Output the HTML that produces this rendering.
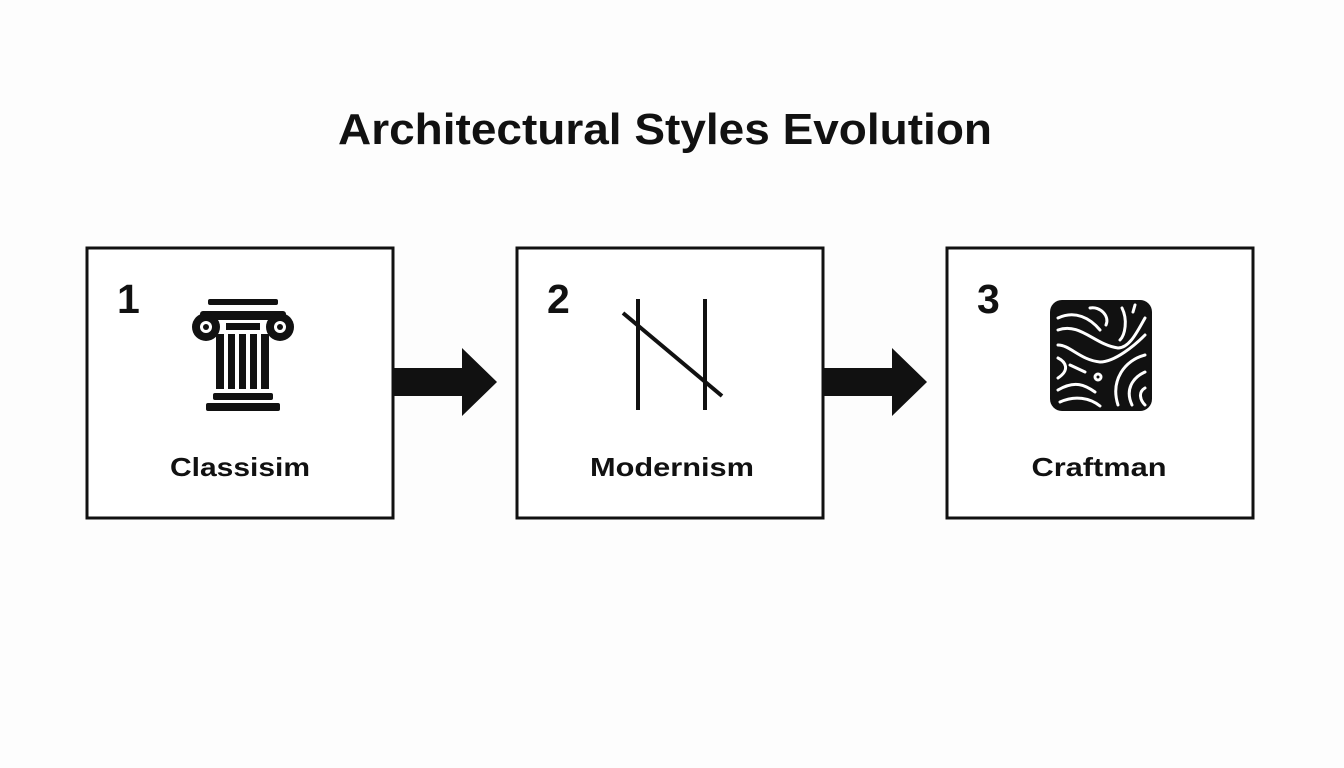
<!DOCTYPE html>
<html><head><style>
body{margin:0;background:#fdfdfd;}
svg{display:block}
text{font-family:"Liberation Sans",Arial,sans-serif;font-weight:bold;fill:#111}
</style></head><body>
<svg width="1344" height="768" viewBox="0 0 1344 768">
<rect width="1344" height="768" fill="#fdfdfd"/>
<text x="665" y="144" font-size="44" text-anchor="middle" textLength="654" lengthAdjust="spacingAndGlyphs">Architectural Styles Evolution</text>
<g fill="#fff" stroke="#111" stroke-width="3">
<rect x="87" y="248" width="306" height="270"/>
<rect x="517" y="248" width="306" height="270"/>
<rect x="947" y="248" width="306" height="270"/>
</g>
<g fill="#111">
<path d="M393 368H462V348L497 382L462 416V396H393Z"/>
<path d="M823 368H892V348L927 382L892 416V396H823Z"/>
</g>
<text x="117" y="313" font-size="41">1</text>
<text x="547" y="313" font-size="41">2</text>
<text x="977" y="313" font-size="41">3</text>
<text x="240" y="476" font-size="26" text-anchor="middle" textLength="140" lengthAdjust="spacingAndGlyphs">Classisim</text>
<text x="672" y="476" font-size="26" text-anchor="middle" textLength="164" lengthAdjust="spacingAndGlyphs">Modernism</text>
<text x="1099" y="476" font-size="26" text-anchor="middle" textLength="135" lengthAdjust="spacingAndGlyphs">Craftman</text>
<!-- column -->
<g fill="#111">
<rect x="208" y="299" width="70" height="6" rx="2"/>
<rect x="200" y="311" width="86" height="9" rx="3"/>
<circle cx="206" cy="327" r="14"/><circle cx="280" cy="327" r="14"/>
<rect x="226" y="323" width="34" height="7"/>
<rect x="216" y="334" width="8" height="55"/><rect x="228" y="334" width="7" height="55"/>
<rect x="239" y="334" width="7" height="55"/><rect x="250" y="334" width="7" height="55"/>
<rect x="261" y="334" width="8" height="55"/>
<rect x="213" y="393" width="60" height="7" rx="2"/>
<rect x="206" y="403" width="74" height="8" rx="2"/>
</g>
<circle cx="206" cy="327" r="6" fill="#fff"/><circle cx="280" cy="327" r="6" fill="#fff"/>
<circle cx="206" cy="327" r="3" fill="#111"/><circle cx="280" cy="327" r="3" fill="#111"/>
<!-- modernism -->
<g stroke="#111" stroke-width="4">
<line x1="638" y1="299" x2="638" y2="410"/>
<line x1="705" y1="299" x2="705" y2="410"/>
<line x1="623" y1="313" x2="722" y2="396"/>
</g>
<!-- craftman -->
<rect x="1050" y="300" width="102" height="111" rx="12" fill="#111"/>
<g fill="none" stroke="#fff" stroke-width="3" stroke-linecap="round">
<path d="M1058 318C1075 310 1090 318 1100 330"/>
<path d="M1058 330C1080 322 1095 345 1118 348C1130 348 1138 330 1145 318"/>
<path d="M1090 308C1100 306 1110 316 1106 325"/>
<path d="M1122 308C1128 320 1125 335 1120 340"/>
<path d="M1135 305L1133 312"/>
<path d="M1058 345C1070 345 1080 360 1100 362C1115 362 1135 345 1145 335"/>
<path d="M1058 358C1066 362 1070 370 1058 378"/>
<path d="M1070 365L1085 372"/>
<path d="M1058 390C1075 380 1085 385 1095 392"/>
<path d="M1060 402C1075 395 1090 398 1100 406"/>
<path d="M1118 405C1110 380 1125 360 1145 355"/>
<path d="M1132 405C1125 390 1132 378 1145 372"/>
<path d="M1145 388C1138 392 1140 400 1145 405"/>
<circle cx="1098" cy="377" r="3"/>
</g>
</svg>
</body></html>
